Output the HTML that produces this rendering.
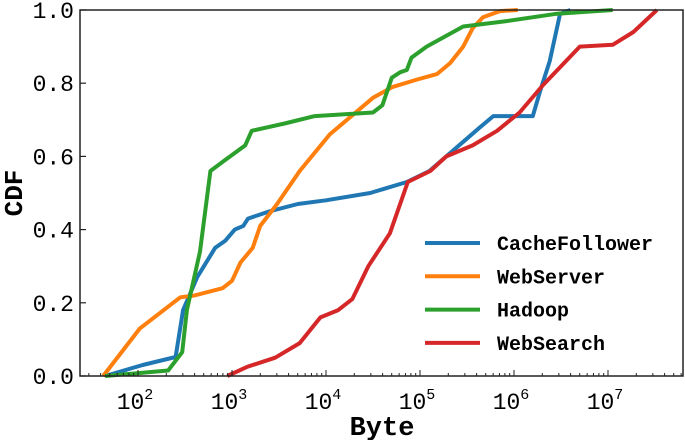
<!DOCTYPE html>
<html><head><meta charset="utf-8"><style>
body{margin:0;background:#fff;}
svg text{font-family:"Liberation Mono","Noto Sans CJK SC",monospace;}
</style></head><body>
<svg id="chart" width="685" height="440" xmlns="http://www.w3.org/2000/svg"></svg>
<script>
// values: log10(bytes) and CDF
const cacheX=[1.65,2.05,2.40,2.48,2.63,2.82,2.93,3.03,3.12,3.17,3.4,3.7,4.0,4.47,4.86,5.1,5.46,5.64,5.78,6.2,6.28,6.38,6.49,6.6];
const cacheY=[0,0.03,0.052,0.18,0.27,0.35,0.37,0.40,0.41,0.43,0.45,0.47,0.48,0.50,0.53,0.56,0.64,0.68,0.71,0.71,0.78,0.86,0.99,1.0];
const webX=[1.63,2.02,2.45,2.6,2.9,3.0,3.09,3.22,3.3,3.48,3.72,4.04,4.5,4.71,4.97,5.18,5.32,5.46,5.56,5.67,5.85,6.04];
const webY=[0,0.13,0.215,0.22,0.24,0.26,0.31,0.35,0.41,0.47,0.56,0.66,0.76,0.79,0.81,0.825,0.855,0.9,0.95,0.98,0.997,1.0];
const hadoopX=[1.65,2.32,2.47,2.52,2.66,2.77,2.9,3.14,3.21,3.56,3.88,4.5,4.6,4.70,4.79,4.86,4.91,5.07,5.46,5.93,6.46,7.05];
const hadoopY=[0,0.015,0.065,0.18,0.34,0.56,0.585,0.63,0.67,0.69,0.71,0.72,0.74,0.815,0.83,0.836,0.87,0.9,0.955,0.97,0.99,1.0];
const searchX=[2.95,3.16,3.46,3.72,3.94,4.13,4.28,4.45,4.68,4.87,5.11,5.28,5.56,5.82,6.06,6.31,6.70,7.05,7.27,7.52];
const searchY=[0,0.025,0.05,0.09,0.16,0.18,0.21,0.30,0.39,0.53,0.56,0.60,0.63,0.67,0.72,0.795,0.90,0.905,0.94,1.0];
const seriesNames=["CacheFollower","WebServer","Hadoop","WebSearch"];
const yTicks=[0,0.2,0.4,0.6,0.8,1.0];
const yTickLabels=["0.0","0.2","0.4","0.6","0.8","1.0"];
const xDecades=[2,3,4,5,6,7];

const L=80,R=683,T=10,B=376;
const xMin=2-58/94, xMax=2+545/94;
const sx=v=>L+(v-xMin)/(xMax-xMin)*(R-L);
const sy=v=>B-v*(B-T);
const svg=document.getElementById('chart');
const NS='http://www.w3.org/2000/svg';
function mk(t,a){const e=document.createElementNS(NS,t);for(const k in a)e.setAttribute(k,a[k]);svg.appendChild(e);return e;}

const colors=["#1f77b4","#ff7f0e","#2ca02c","#d62728"];
const xs=[cacheX,webX,hadoopX,searchX], ys=[cacheY,webY,hadoopY,searchY];
const keys=["cachefollower","webserver","hadoop","websearch"];
for(let s=0;s<4;s++){
  const d=xs[s].map((v,i)=>(i?'L':'M')+sx(v).toFixed(1)+','+sy(ys[s][i]).toFixed(1)).join('');
  const p=mk('path',{d:d,fill:'none',stroke:colors[s],'stroke-width':4,'stroke-linejoin':'round'});
  
  
}
const fr=mk('rect',{x:L,y:T,width:R-L,height:B-T,fill:'none',stroke:'#222','stroke-width':1.5});


yTicks.forEach((v,i)=>{
  mk('line',{x1:L,x2:L+6,y1:sy(v),y2:sy(v),stroke:'#222','stroke-width':1.2});
  const t=mk('text',{x:L-6,y:sy(v)+8,'text-anchor':'end','font-size':23});
  t.textContent=yTickLabels[i];
  
  
});
for(let d=1;d<=7;d++){
  for(let m=1;m<10;m++){
    const v=d+Math.log10(m);
    if(v<xMin||v>xMax)continue;
    const len=m===1?6:3;
    mk('line',{x1:sx(v),x2:sx(v),y1:B,y2:B-len,stroke:'#222','stroke-width':1});
  }
}
xDecades.forEach(d=>{
  const t=mk('text',{x:sx(d)-3,y:B+33,'text-anchor':'middle','font-size':23});
  t.innerHTML='10<tspan font-size="15" dy="-10">'+d+'</tspan>';
  
  
});
const xl=mk('text',{x:382,y:435,'text-anchor':'middle','font-size':27,'font-weight':'bold'});
xl.textContent='Byte';


const yl=mk('text',{x:0,y:0,'text-anchor':'middle','font-size':26,'font-weight':'bold',transform:'translate(22,193) rotate(-90)'});
yl.textContent='CDF';


seriesNames.forEach((n,i)=>{
  const y=243+i*33.3;
  const ln=mk('line',{x1:425,x2:480,y1:y,y2:y,stroke:colors[i],'stroke-width':4});
  
  
  const t=mk('text',{x:497,y:y+7,'font-size':20,'font-weight':'bold'});
  t.textContent=n;
  
  
});
</script>
</body></html>
